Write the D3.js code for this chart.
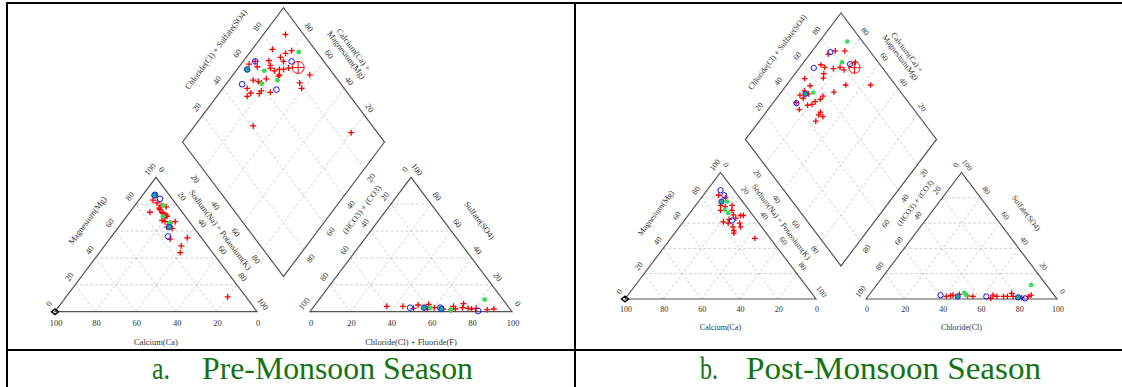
<!DOCTYPE html>
<html>
<head>
<meta charset="utf-8">
<script src="https://cdn.jsdelivr.net/npm/d3@7"></script>
<style>
html, body { margin: 0; padding: 0; background: #fff; }
svg { display: block; }
</style>
</head>
<body>
<svg id="chart" width="1122" height="387"></svg>
<script>
var tickValues = [0, 20, 40, 60, 80, 100];
var innerTicks = [20, 40, 60, 80];

// marker kinds: p = red plus, o = blue circle, g = green dot, t = blue+green, m = mean, k = black
// cation rows: [Mg %, Na+K %, kind]
var preCation = [
  [83, 7, "p"], [74, 10, "p"], [79, 13, "p"], [78, 16, "p"], [76, 14, "p"], [73, 17, "p"],
  [72, 19, "p"], [70, 19, "p"], [67, 21, "p"], [66, 24, "p"], [67, 26, "p"], [62, 27, "p"],
  [63, 24, "p"], [54, 30, "p"], [55, 38, "p"], [49, 38, "p"], [44, 40, "p"], [11, 80, "p"],
  [81, 10, "p"], [77, 13, "p"], [74, 16, "p"], [71, 20, "p"], [68, 19, "p"],
  [87, 6, "o"], [84, 10, "o"], [56, 28, "o"],
  [79, 14, "g"], [71, 18, "g"], [66, 24, "g"],
  [86.5, 6, "t"], [63, 25, "t"],
  [0, 0, "k"]
];
// anion rows: [SO4 %, Cl %, kind]
var preAnion = [
  [4, 36, "p"], [4, 44, "p"], [5, 51, "p"], [2.5, 50, "p"], [5.5, 56, "p"], [2, 57, "p"],
  [3, 60, "p"], [4, 69, "p"], [2, 71, "p"], [3, 74, "p"], [6, 73, "p"], [2.5, 77, "p"],
  [2, 79, "p"], [2.5, 81, "p"], [1.5, 87, "p"], [2, 90, "p"], [2, 65, "p"], [1.5, 69, "p"],
  [3, 48, "o"], [3, 63, "o"], [0.5, 83, "o"],
  [3, 58, "g"], [1.5, 69, "g"], [9, 82, "g"],
  [3, 55, "t"], [2, 64, "t"]
];
// diamond rows: [Na+K %, Cl+SO4 %, kind]
var preDiamond = [
  [11, 91, "p"], [10, 79, "p"], [20, 88, "p"], [18, 84, "p"], [17, 80, "p"], [12.5, 73, "p"],
  [20, 80, "p"], [4, 62, "p"], [9, 65, "p"], [15, 72, "p"], [16, 71, "p"], [19, 72, "p"],
  [21, 75, "p"], [23, 77, "p"], [25, 80, "p"], [23, 73, "p"], [23, 72, "p"], [18, 65, "p"],
  [12, 58, "p"], [15, 60, "p"], [17, 61, "p"], [38, 88, "p"], [36, 80, "p"], [39, 79, "p"],
  [12, 52, "p"], [20, 58, "p"], [20, 56, "p"], [25, 62, "p"], [15.5, 52, "p"], [15, 49, "p"],
  [29, 41, "p"], [80, 87, "p"], [6, 66, "p"],
  [6, 66, "o"], [24, 84, "o"], [8, 51, "o"], [27, 66, "o"],
  [24, 91, "g"], [14, 67, "g"], [24, 70, "g"], [17.5, 61, "g"],
  [5, 59, "t"],
  [29.5, 85, "m"]
];

var postCation = [
  [82, 8, "p"], [80, 12.5, "p"], [74, 13, "p"], [73, 16, "p"], [74, 19, "p"], [70, 15, "p"],
  [70, 21, "p"], [66.5, 23.5, "p"], [66, 27.5, "p"], [66, 29, "p"], [64, 26, "p"], [61, 21, "p"],
  [60, 24, "p"], [60, 30, "p"], [57, 28, "p"], [57, 32, "p"], [54, 30, "p"], [52, 31, "p"],
  [48, 44, "p"], [63, 23, "p"],
  [86, 7, "o"], [82, 11, "o"], [62, 25, "o"],
  [77, 15, "g"], [70.5, 17, "g"], [68, 20, "g"],
  [77, 12, "t"],
  [0, 0, "k"]
];
var postAnion = [
  [2, 41, "p"], [2.6, 43, "p"], [3, 44, "p"], [3.7, 47, "p"], [2.4, 52, "p"], [2, 55, "p"],
  [0.6, 65, "p"], [3, 65, "p"], [2, 67.5, "p"], [2, 71, "p"], [2, 73, "p"], [4.5, 74, "p"],
  [2, 76, "p"], [1, 81, "p"], [2, 84, "p"], [3, 85, "p"],
  [3, 37.5, "o"], [2, 62, "o"], [0.5, 83, "o"],
  [5, 49, "g"], [3, 51, "g"], [11, 81, "g"],
  [2, 47, "t"], [1.3, 79, "t"]
];
var postDiamond = [
  [17, 87, "p"], [9.6, 77, "p"], [12, 82, "p"], [27, 88, "p"], [10, 69, "p"], [13, 70, "p"],
  [18, 74, "p"], [21, 78, "p"], [24, 79, "p"], [15, 67, "p"], [16.5, 65, "p"], [7, 55, "p"],
  [12.6, 55, "p"], [31, 74, "p"], [44, 87, "p"], [27.6, 65, "p"], [11, 46, "p"], [15, 51, "p"],
  [14, 46.5, "p"], [23.4, 57.6, "p"], [23.3, 55, "p"], [21.6, 51.4, "p"], [21, 48.6, "p"],
  [19, 46, "p"], [16.4, 40, "p"], [28.5, 50, "p"], [28.6, 48, "p"], [31.5, 49.5, "p"],
  [29.6, 44, "p"], [11.7, 50, "p"], [12, 41, "p"],
  [10, 79, "o"], [25, 84.5, "o"], [7.5, 64, "o"], [12.4, 41, "o"],
  [14.6, 92, "g"], [20, 81, "g"], [17, 54, "g"],
  [13.4, 49.4, "t"],
  [28.7, 85.4, "m"]
];

var captionLetters = ["a.", "b."];
var captionTitles = ["Pre-Monsoon Season", "Post-Monsoon Season"];
var anionTitles = ["Chloride(Cl) + Fluoride(F)", "Chloride(Cl)"];

var serif = "'Liberation Serif', 'Times New Roman', 'DejaVu Serif', serif";
var svg = d3.select("#chart").attr("font-family", serif);
var kindOrder = { p: 0, o: 1, g: 2, t: 3, m: 4, k: 5 };

function drawPiper(cfg) {
  var h = Math.sqrt(3) / 2;
  var s = cfg.scale;
  var gap = cfg.gapPx / cfg.W;
  var x = d3.scaleLinear().domain([0, 1]).range([cfg.x0, cfg.x0 + cfg.W]);
  var y = d3.scaleLinear().domain([0, h]).range([cfg.base, cfg.base - cfg.H]);
  function px(p) { return [x(p[0]), y(p[1])]; }
  function cat(mg, nak) { return px([nak / 100 + mg / 200, mg / 100 * h]); }
  function an(so4, cl) { return px([1 + gap + cl / 100 + so4 / 200, so4 / 100 * h]); }
  var bx = 1 + gap / 2, by = gap * h;
  function dia(nak, cs) {
    var a = 1 - nak / 100, b = cs / 100;
    return px([bx - a / 2 + b / 2, by + (a + b) * h]);
  }

  var g = svg.append("g");
  var line = d3.line();

  // dashed grid
  var grid = [];
  innerTicks.forEach(function (t) {
    grid.push([cat(t, 0), cat(t, 100 - t)]);
    grid.push([cat(0, t), cat(100 - t, t)]);
    grid.push([cat(0, 100 - t), cat(100 - t, 0)]);
    grid.push([an(t, 0), an(t, 100 - t)]);
    grid.push([an(0, t), an(100 - t, t)]);
    grid.push([an(0, 100 - t), an(100 - t, 0)]);
    grid.push([dia(t, 0), dia(t, 100)]);
    grid.push([dia(0, t), dia(100, t)]);
  });
  g.selectAll(".grid").data(grid).enter().append("path")
    .attr("class", "grid")
    .attr("d", line)
    .attr("fill", "none")
    .attr("stroke", "#c4c4c4")
    .attr("stroke-width", 0.8)
    .attr("stroke-dasharray", "3,2");

  var frames = [
    [cat(0, 0), cat(100, 0), cat(0, 100)],
    [an(0, 0), an(100, 0), an(0, 100)],
    [dia(0, 0), dia(0, 100), dia(100, 100), dia(100, 0)]
  ];
  g.selectAll(".frame").data(frames).enter().append("path")
    .attr("class", "frame")
    .attr("d", d3.line().curve(d3.curveLinearClosed))
    .attr("fill", "none")
    .attr("stroke", "#555")
    .attr("stroke-width", 1.2);

  // tick labels
  var len = Math.sqrt(cfg.W * cfg.W / 4 + cfg.H * cfg.H);
  var ex = cfg.W / 2 / len, ey = cfg.H / len;
  var ang = Math.atan2(cfg.H, cfg.W / 2) * 180 / Math.PI;
  var labels = [];
  tickValues.forEach(function (v) {
    labels.push({ p: cat(0, 100 - v), dx: 1, dy: 11, r: 0, v: v });
    labels.push({ p: cat(v, 0), dx: -ex * 10, dy: -ey * 10, r: -ang, v: v });
    labels.push({ p: cat(100 - v, v), dx: ex * 10, dy: -ey * 10, r: ang, v: v });
    labels.push({ p: an(0, v), dx: 1, dy: 11, r: 0, v: v });
    labels.push({ p: an(100 - v, 0), dx: -ex * 10, dy: -ey * 10, r: -ang, v: v });
    labels.push({ p: an(v, 100 - v), dx: ex * 10, dy: -ey * 10, r: ang, v: v });
  });
  innerTicks.forEach(function (v) {
    labels.push({ p: dia(0, v), dx: -ex * 10, dy: -ey * 10, r: -ang, v: v });
    labels.push({ p: dia(100 - v, 100), dx: ex * 9, dy: -ey * 9, r: ang, v: v });
    labels.push({ p: dia(v, 0), dx: -ex * 12, dy: ey * 12, r: ang, v: v });
    labels.push({ p: dia(100, 100 - v), dx: ex * 11, dy: ey * 11, r: -ang, v: v });
  });
  g.selectAll(".tick").data(labels).enter().append("text")
    .attr("class", "tick")
    .attr("transform", function (d) {
      return "translate(" + (d.p[0] + d.dx * s) + "," + (d.p[1] + d.dy * s) + ") rotate(" + d.r + ")";
    })
    .attr("text-anchor", "middle")
    .attr("dy", "0.35em")
    .attr("font-size", cfg.font)
    .attr("fill", "#333")
    .text(function (d) { return d.v; });

  // axis titles along edges
  function along(a, b, t, dist, nx, ny) {
    return [a[0] + (b[0] - a[0]) * t + nx * dist * s, a[1] + (b[1] - a[1]) * t + ny * dist * s];
  }
  var titles = [
    { p: along(cat(0, 0), cat(100, 0), 0.55, 29, -ey, -ex), r: -ang, text: "Magnesium(Mg)" },
    { p: along(cat(100, 0), cat(0, 100), 0.48, 20, ey, -ex), r: ang, text: "Sodium(Na) + Potassium(K)" },
    { p: along(an(0, 0), an(100, 0), 0.67, 20, -ey, -ex), r: -ang, text: "(HCO3) + (CO3)" },
    { p: along(an(100, 0), an(0, 100), 0.45, 29, ey, -ex), r: ang, text: "Sulfate(SO4)" },
    { p: along(dia(0, 0), dia(0, 100), 0.56, 29, -ey, -ex), r: -ang, text: "Chloride(Cl) + Sulfate(SO4)" },
    { p: along(dia(0, 100), dia(100, 100), 0.45, 31, ey, -ex), r: ang, text: "Calcium(Ca) +" },
    { p: along(dia(0, 100), dia(100, 100), 0.45, 22, ey, -ex), r: ang, text: "Magnesium(Mg)" },
    { p: [x(0.5), cfg.base + 30 * s], r: 0, text: "Calcium(Ca)" },
    { p: [x(1.5 + gap), cfg.base + 30 * s], r: 0, text: cfg.anionTitle }
  ];
  g.selectAll(".title").data(titles).enter().append("text")
    .attr("class", "title")
    .attr("transform", function (d) { return "translate(" + d.p[0] + "," + d.p[1] + ") rotate(" + d.r + ")"; })
    .attr("text-anchor", "middle")
    .attr("dy", "0.35em")
    .attr("font-size", cfg.font)
    .attr("fill", "#333")
    .text(function (d) { return d.text; });

  // data points
  var pts = [];
  cfg.cation.forEach(function (d) { pts.push({ p: cat(d[0], d[1]), k: d[2] }); });
  cfg.anion.forEach(function (d) { pts.push({ p: an(d[0], d[1]), k: d[2] }); });
  cfg.diamond.forEach(function (d) { pts.push({ p: dia(d[0], d[1]), k: d[2] }); });
  pts.sort(function (a, b) { return kindOrder[a.k] - kindOrder[b.k]; });

  var mk = g.selectAll(".pt").data(pts).enter().append("g")
    .attr("class", "pt")
    .attr("transform", function (d) { return "translate(" + d.p[0] + "," + d.p[1] + ")"; });

  var c = 3 * s;
  mk.filter(function (d) { return d.k === "p"; }).append("path")
    .attr("d", "M" + (-c) + ",0H" + c + "M0," + (-c) + "V" + c)
    .attr("stroke", "#ff0000").attr("stroke-width", 1.3);
  mk.filter(function (d) { return d.k === "o"; }).append("circle")
    .attr("r", 2.8 * s).attr("fill", "none").attr("stroke", "#1010ff").attr("stroke-width", 1);
  mk.filter(function (d) { return d.k === "g"; }).append("circle")
    .attr("r", 2.4 * s).attr("fill", "#33dd55");
  mk.filter(function (d) { return d.k === "t"; }).append("circle")
    .attr("r", 2.8 * s).attr("fill", "#2aa58a").attr("stroke", "#1030e0").attr("stroke-width", 1);
  var mean = mk.filter(function (d) { return d.k === "m"; });
  mean.append("circle").attr("r", 6 * s).attr("fill", "none").attr("stroke", "#ff0000").attr("stroke-width", 1);
  mean.append("path").attr("d", "M" + (-6 * s) + ",0H" + (6 * s) + "M0," + (-6 * s) + "V" + (6 * s))
    .attr("stroke", "#ff0000").attr("stroke-width", 1);
  mk.filter(function (d) { return d.k === "k"; }).append("path")
    .attr("d", "M-3.5,0L0,-2.8L3.5,0L0,2.8Z")
    .attr("fill", "none").attr("stroke", "#000").attr("stroke-width", 1.4);
}

drawPiper({ x0: 55, base: 311.7, W: 202, H: 134.4, gapPx: 53, font: 8.5, scale: 1,
  cation: preCation, anion: preAnion, diamond: preDiamond, anionTitle: anionTitles[0] });
drawPiper({ x0: 625, base: 299, W: 191, H: 126.5, gapPx: 50, font: 8, scale: 0.945,
  cation: postCation, anion: postAnion, diamond: postDiamond, anionTitle: anionTitles[1] });

// table rules
var rules = [
  [[6, 3], [1122, 3]],
  [[7, 2], [7, 387]],
  [[575, 2], [575, 387]],
  [[6, 350], [1122, 350]]
];
svg.selectAll(".rule").data(rules).enter().append("path")
  .attr("class", "rule")
  .attr("d", d3.line())
  .attr("stroke", "#000")
  .attr("stroke-width", 2);

// captions (slightly condensed, as in the source document)
var capX = [[152, 202], [700, 746]];
var capW = [[18, 271], [18, 295]];
captionTitles.forEach(function (t, i) {
  svg.append("text").attr("x", capX[i][0]).attr("y", 379)
    .attr("font-size", 32).attr("fill", "#137313")
    .attr("textLength", capW[i][0]).attr("lengthAdjust", "spacingAndGlyphs")
    .text(captionLetters[i]);
  svg.append("text").attr("x", capX[i][1]).attr("y", 379)
    .attr("font-size", 32).attr("fill", "#137313")
    .attr("textLength", capW[i][1]).attr("lengthAdjust", "spacingAndGlyphs")
    .text(t);
});
</script>
</body>
</html>
